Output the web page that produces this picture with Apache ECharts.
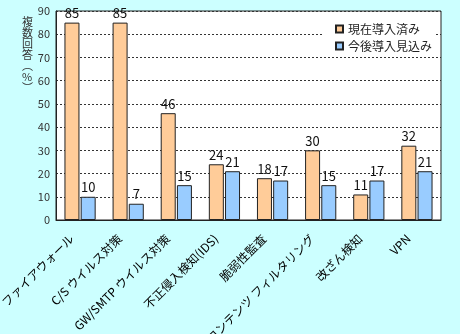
<!DOCTYPE html>
<html><head><meta charset="utf-8">
<script src="https://cdn.jsdelivr.net/npm/echarts@6/dist/echarts.min.js"></script>
<style>html,body{margin:0;padding:0;background:#ccffff;}#c{width:460px;height:334px;}</style>
</head><body><div id="c"></div>
<script>
const categories = ['ファイアウォール','C/S ウイルス対策','GW/SMTP ウイルス対策','不正侵入検知(IDS)','脆弱性監査','コンテンツ フィルタリング','改ざん検知','VPN'];
const current = [85, 85, 46, 24, 18, 30, 11, 32];
const future = [10, 7, 15, 21, 17, 15, 17, 21];
const seriesNames = ['現在導入済み', '今後導入見込み'];
const yTitle = '複\n数\n回\n答\n︵\n%\n︶';
const font = '"Noto Sans CJK JP", "Noto Sans", sans-serif';

const chart = echarts.init(document.getElementById('c'));
chart.setOption({
  backgroundColor: '#ccffff',
  animation: false,
  textStyle: {fontFamily: font},
  grid: {left: 56, top: 11, right: 19, bottom: 114, outerBoundsMode: 'none', containLabel: false,
         show: true, backgroundColor: '#ffffff', borderColor: '#222', borderWidth: 1},
  legend: {
    orient: 'vertical', right: 26, top: 20, itemWidth: 7, itemHeight: 7, itemGap: 5,
    backgroundColor: '#ffffff', padding: [3, 2, 3, 13],
    textStyle: {fontSize: 12, color: '#222', fontFamily: font},
    data: seriesNames.map(n => ({name: n, icon: 'rect'}))
  },
  graphic: [{
    type: 'text', left: 22, top: 16,
    style: {text: yTitle, fontSize: 11, lineHeight: 11, fill: '#333', fontFamily: font, align: 'center'}
  }],
  xAxis: {
    type: 'category', data: categories,
    axisLine: {lineStyle: {color: '#222'}},
    axisTick: {inside: true, length: 4, lineStyle: {color: '#222'}},
    axisLabel: {rotate: 45, interval: 0, fontSize: 12, color: '#000', margin: 8, padding: [0, 12, 0, 0], fontFamily: font}
  },
  yAxis: {
    type: 'value', min: 0, max: 90, interval: 10,
    axisLine: {show: true, lineStyle: {color: '#222'}},
    axisTick: {show: false},
    axisLabel: {fontSize: 11, color: '#333', margin: 6},
    splitLine: {lineStyle: {color: '#333', type: [2, 2], width: 1}}
  },
  series: [
    {name: seriesNames[0], type: 'bar', data: current, barWidth: 15, barGap: '8%',
     itemStyle: {color: '#ffcc99', borderColor: '#222', borderWidth: 1},
     label: {show: true, position: 'top', fontSize: 13, color: '#111', distance: 3}},
    {name: seriesNames[1], type: 'bar', data: future, barWidth: 15,
     itemStyle: {color: '#99ccff', borderColor: '#222', borderWidth: 1},
     label: {show: true, position: 'top', fontSize: 13, color: '#111', distance: 3}}
  ]
});
</script></body></html>
